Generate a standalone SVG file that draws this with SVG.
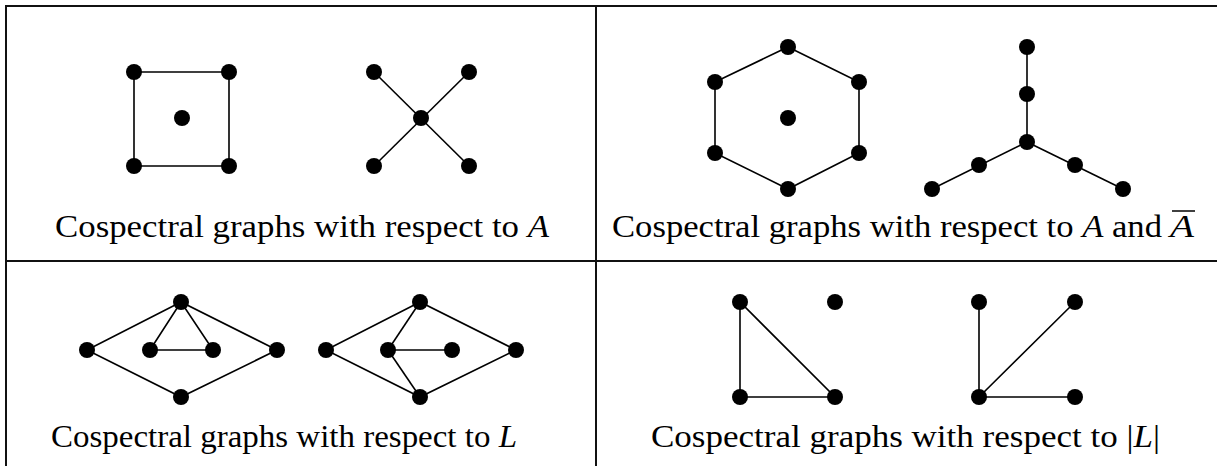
<svg xmlns="http://www.w3.org/2000/svg" width="1217" height="466" viewBox="0 0 1217 466">
<style>
.frame{stroke:#111;stroke-width:2;fill:none}
.e{stroke:#000;stroke-width:1.6;fill:none}
.v{fill:#000}
.cap{font-family:"Liberation Serif","DejaVu Serif",serif;font-size:31px;fill:#000}
.it{font-style:italic}
</style>
<rect width="1217" height="466" fill="#fff"/>
<g id="table" class="frame">
<line x1="5" y1="6" x2="1217" y2="6"/>
<line x1="5" y1="261" x2="1217" y2="261"/>
<line x1="6" y1="5" x2="6" y2="466"/>
<line x1="596" y1="5" x2="596" y2="466"/>
</g>
<g id="connectors" class="e">
<path d="M134 72H229V166H134Z"/>
<line x1="374" y1="72" x2="469" y2="166"/>
<line x1="469" y1="72" x2="374" y2="166"/>
<path d="M788 47L859 82V153L788 189L715 153V82Z"/>
<line x1="1027" y1="47" x2="1027" y2="142"/>
<line x1="1027" y1="142" x2="932" y2="189"/>
<line x1="1027" y1="142" x2="1123" y2="189"/>
<path d="M181 302L87 350L181 397L277 350Z"/>
<path d="M181 302L150 350H213Z"/>
<path d="M420 302L326 350L420 397L516 350Z"/>
<line x1="420" y1="302" x2="388" y2="350"/>
<line x1="388" y1="350" x2="452" y2="350"/>
<line x1="388" y1="350" x2="420" y2="397"/>
<path d="M740 302V397H835Z"/>
<path d="M979 302V397H1075M979 397L1075 302"/>
</g>
<g id="nodes" class="v">
<g id="g1"><circle cx="134" cy="72" r="8"/><circle cx="229" cy="72" r="8"/><circle cx="134" cy="166" r="8"/><circle cx="229" cy="166" r="8"/><circle cx="182" cy="118" r="8"/></g>
<g id="g2"><circle cx="374" cy="72" r="8"/><circle cx="469" cy="72" r="8"/><circle cx="421" cy="118" r="8"/><circle cx="374" cy="166" r="8"/><circle cx="469" cy="166" r="8"/></g>
<g id="g3"><circle cx="788" cy="47" r="8"/><circle cx="859" cy="82" r="8"/><circle cx="859" cy="153" r="8"/><circle cx="788" cy="189" r="8"/><circle cx="715" cy="153" r="8"/><circle cx="715" cy="82" r="8"/><circle cx="788" cy="118" r="8"/></g>
<g id="g4"><circle cx="1027" cy="47" r="8"/><circle cx="1027" cy="94" r="8"/><circle cx="1027" cy="142" r="8"/><circle cx="979" cy="165" r="8"/><circle cx="1075" cy="165" r="8"/><circle cx="932" cy="189" r="8"/><circle cx="1123" cy="189" r="8"/></g>
<g id="g5"><circle cx="181" cy="302" r="8"/><circle cx="87" cy="350" r="8"/><circle cx="150" cy="350" r="8"/><circle cx="213" cy="350" r="8"/><circle cx="277" cy="350" r="8"/><circle cx="181" cy="397" r="8"/></g>
<g id="g6"><circle cx="420" cy="302" r="8"/><circle cx="326" cy="350" r="8"/><circle cx="388" cy="350" r="8"/><circle cx="452" cy="350" r="8"/><circle cx="516" cy="350" r="8"/><circle cx="420" cy="397" r="8"/></g>
<g id="g7"><circle cx="740" cy="302" r="8"/><circle cx="835" cy="302" r="8"/><circle cx="740" cy="397" r="8"/><circle cx="835" cy="397" r="8"/></g>
<g id="g8"><circle cx="979" cy="302" r="8"/><circle cx="1075" cy="302" r="8"/><circle cx="979" cy="397" r="8"/><circle cx="1075" cy="397" r="8"/></g>
</g>
<g id="captions">
<text class="cap" x="55" y="237" textLength="494" lengthAdjust="spacingAndGlyphs">Cospectral graphs with respect to <tspan class="it">A</tspan></text>
<text class="cap" x="612" y="237" textLength="550" lengthAdjust="spacingAndGlyphs">Cospectral graphs with respect to <tspan class="it">A</tspan> and</text>
<text class="cap it" x="1170" y="237" textLength="24" lengthAdjust="spacingAndGlyphs">A</text>
<line x1="1172" y1="211" x2="1195" y2="211" stroke="#000" stroke-width="1.5"/>
<text class="cap" x="51" y="447" textLength="466" lengthAdjust="spacingAndGlyphs">Cospectral graphs with respect to <tspan class="it">L</tspan></text>
<text class="cap" x="651" y="447" textLength="509" lengthAdjust="spacingAndGlyphs">Cospectral graphs with respect to |<tspan class="it">L</tspan>|</text>
</g>
</svg>
